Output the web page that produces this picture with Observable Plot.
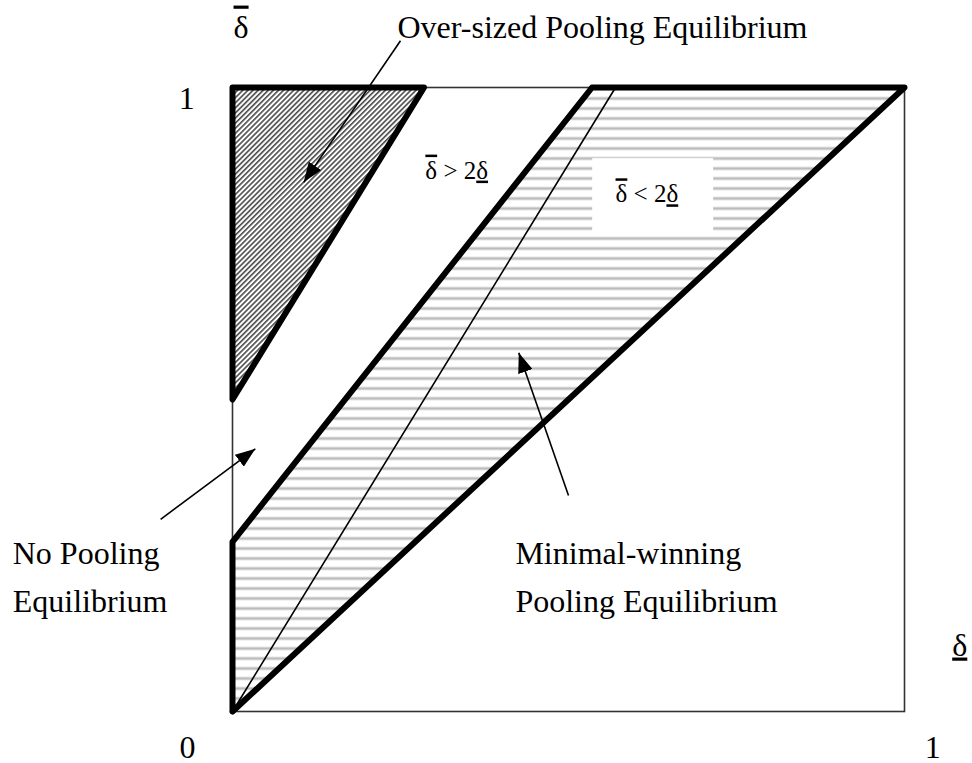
<!DOCTYPE html>
<html><head><meta charset="utf-8">
<script src="https://cdn.jsdelivr.net/npm/d3@7"></script>
<script src="https://cdn.jsdelivr.net/npm/@observablehq/plot@0.6"></script>
<style>body{margin:0;background:#fff} #chart svg{display:block}</style>
</head><body><div id="chart"></div>
<script>
const OVER = "\u0304", UNDER = "\u0332";
const dLow = "δ" + UNDER, dHigh = "δ" + OVER;

// Regions, vertices as [δ̲, δ̄]
const overSizedVertices = [[0, 1], [0.285, 1], [0, 0.5]];
const minimalVertices = [[0, 0], [0, 0.272], [0.535, 1], [1, 1]];
// thin boundary line δ̄ = 2δ̲
const halfLine = [[0, 0], [0.57, 1]];

// annotation arrows (start -> tip)
const arrowStartX = [0.25, -0.107, 0.5];
const arrowStartY = [1.075, 0.308, 0.346];
const arrowTipX = [0.106, 0.034, 0.426];
const arrowTipY = [0.848, 0.421, 0.575];

// region labels
const labelText = ["Over-sized Pooling Equilibrium", "No Pooling", "Equilibrium", "Minimal-winning", "Pooling Equilibrium", dHigh, dLow];
const labelX = [0.2455, -0.327, -0.327, 0.421, 0.421, 0.0015, 1.071];
const labelY = [1.080, 0.2356, 0.1587, 0.237, 0.1587, 1.080, 0.0897];

// condition labels
const condText = [dHigh + " > 2" + dLow, dHigh + " < 2" + dLow];
const condX = [0.287, 0.570];
const condY = [0.854, 0.816];
// white box behind the second condition
const boxX = [0.536, 0.716], boxY = [0.768, 0.886];

// tick labels
const tickText = ["1", "0", "1"];
const tickX = [-0.068, -0.067, 1.042];
const tickY = [0.966, -0.074, -0.074];

const closed = v => [...v, v[0]];
const labels = labelText.map((t, i) => ({t, x: labelX[i], y: labelY[i]}));
const conds = condText.map((t, i) => ({t, x: condX[i], y: condY[i]}));
const ticks = tickText.map((t, i) => ({t, x: tickX[i], y: tickY[i]}));
const arrows = arrowStartX.map((_, i) => ({x1: arrowStartX[i], y1: arrowStartY[i], x2: arrowTipX[i], y2: arrowTipY[i]}));
const px = d => d[0], py = d => d[1];

const svg = Plot.plot({
  width: 972, height: 763,
  marginLeft: 232, marginRight: 68, marginTop: 87, marginBottom: 52,
  x: {domain: [0, 1], axis: null},
  y: {domain: [0, 1], axis: null},
  style: {fontFamily: "'Liberation Serif', 'Times New Roman', serif", background: "#fff", color: "#000", overflow: "visible"},
  marks: [
    Plot.frame({stroke: "#333", strokeWidth: 1.6}),
    Plot.line(closed(overSizedVertices), {x: px, y: py, fill: "url(#diag)", stroke: "none"}),
    Plot.line(closed(minimalVertices), {x: px, y: py, fill: "url(#hstripe)", stroke: "none"}),
    Plot.rect([0], {x1: boxX[0], x2: boxX[1], y1: boxY[0], y2: boxY[1], fill: "#fff"}),
    Plot.line(halfLine, {x: px, y: py, stroke: "#000", strokeWidth: 1.6}),
    Plot.line(closed(overSizedVertices), {x: px, y: py, stroke: "#000", strokeWidth: 6, strokeLinejoin: "round", strokeLinecap: "round"}),
    Plot.line(closed(minimalVertices), {x: px, y: py, stroke: "#000", strokeWidth: 6, strokeLinejoin: "round", strokeLinecap: "round"}),
    Plot.link(arrows, {x1: "x1", y1: "y1", x2: "x2", y2: "y2", stroke: "#000", strokeWidth: 1.6}),
    Plot.text(labels, {x: "x", y: "y", text: "t", textAnchor: "start", lineAnchor: "bottom", fontSize: 32, fill: "#000"}),
    Plot.text(conds, {x: "x", y: "y", text: "t", textAnchor: "start", lineAnchor: "bottom", fontSize: 25, fill: "#000"}),
    Plot.text(ticks, {x: "x", y: "y", text: "t", textAnchor: "middle", lineAnchor: "bottom", fontSize: 32, fill: "#000"})
  ]
});

const s = d3.select(svg);
const defs = s.insert("defs", ":first-child");
const hp = defs.append("pattern").attr("id", "hstripe").attr("patternUnits", "userSpaceOnUse")
  .attr("width", 10).attr("height", 10);
hp.append("rect").attr("width", 10).attr("height", 10).attr("fill", "#fff");
hp.append("rect").attr("y", 6).attr("width", 10).attr("height", 1).attr("fill", "#e4e4e4");
hp.append("rect").attr("y", 7).attr("width", 10).attr("height", 2).attr("fill", "#bcbcbc");
hp.append("rect").attr("y", 9).attr("width", 10).attr("height", 1).attr("fill", "#e4e4e4");
const dp = defs.append("pattern").attr("id", "diag").attr("patternUnits", "userSpaceOnUse")
  .attr("width", 3.6).attr("height", 3.6).attr("patternTransform", "rotate(45)");
dp.append("rect").attr("width", 3.6).attr("height", 3.6).attr("fill", "#fff");
dp.append("rect").attr("width", 1.6).attr("height", 3.6).attr("fill", "#4a4a4a");
const mk = defs.append("marker").attr("id", "ahead").attr("viewBox", "0 0 20 15")
  .attr("refX", 20).attr("refY", 7.5).attr("markerWidth", 20).attr("markerHeight", 15)
  .attr("markerUnits", "userSpaceOnUse").attr("orient", "auto");
mk.append("path").attr("d", "M0,0L20,7.5L0,15Z").attr("fill", "#000");
s.selectAll('g[aria-label="link"] path').attr("marker-end", "url(#ahead)");

// overline / underline via tspans
s.selectAll("text").each(function () {
  const t = this.textContent;
  if (!/[\u0304\u0332]/.test(t)) return;
  const sel = d3.select(this);
  sel.text(null);
  const chars = Array.from(t);
  let buf = "";
  for (let i = 0; i < chars.length; i++) {
    const c = chars[i], n = chars[i + 1];
    if (n === OVER || n === UNDER) {
      if (buf) { sel.append("tspan").text(buf); buf = ""; }
      sel.append("tspan").style("text-decoration", n === OVER ? "overline" : "underline").text(c);
      i++;
    } else buf += c;
  }
  if (buf) sel.append("tspan").text(buf);
});

document.getElementById("chart").appendChild(svg);
</script>
</body></html>
